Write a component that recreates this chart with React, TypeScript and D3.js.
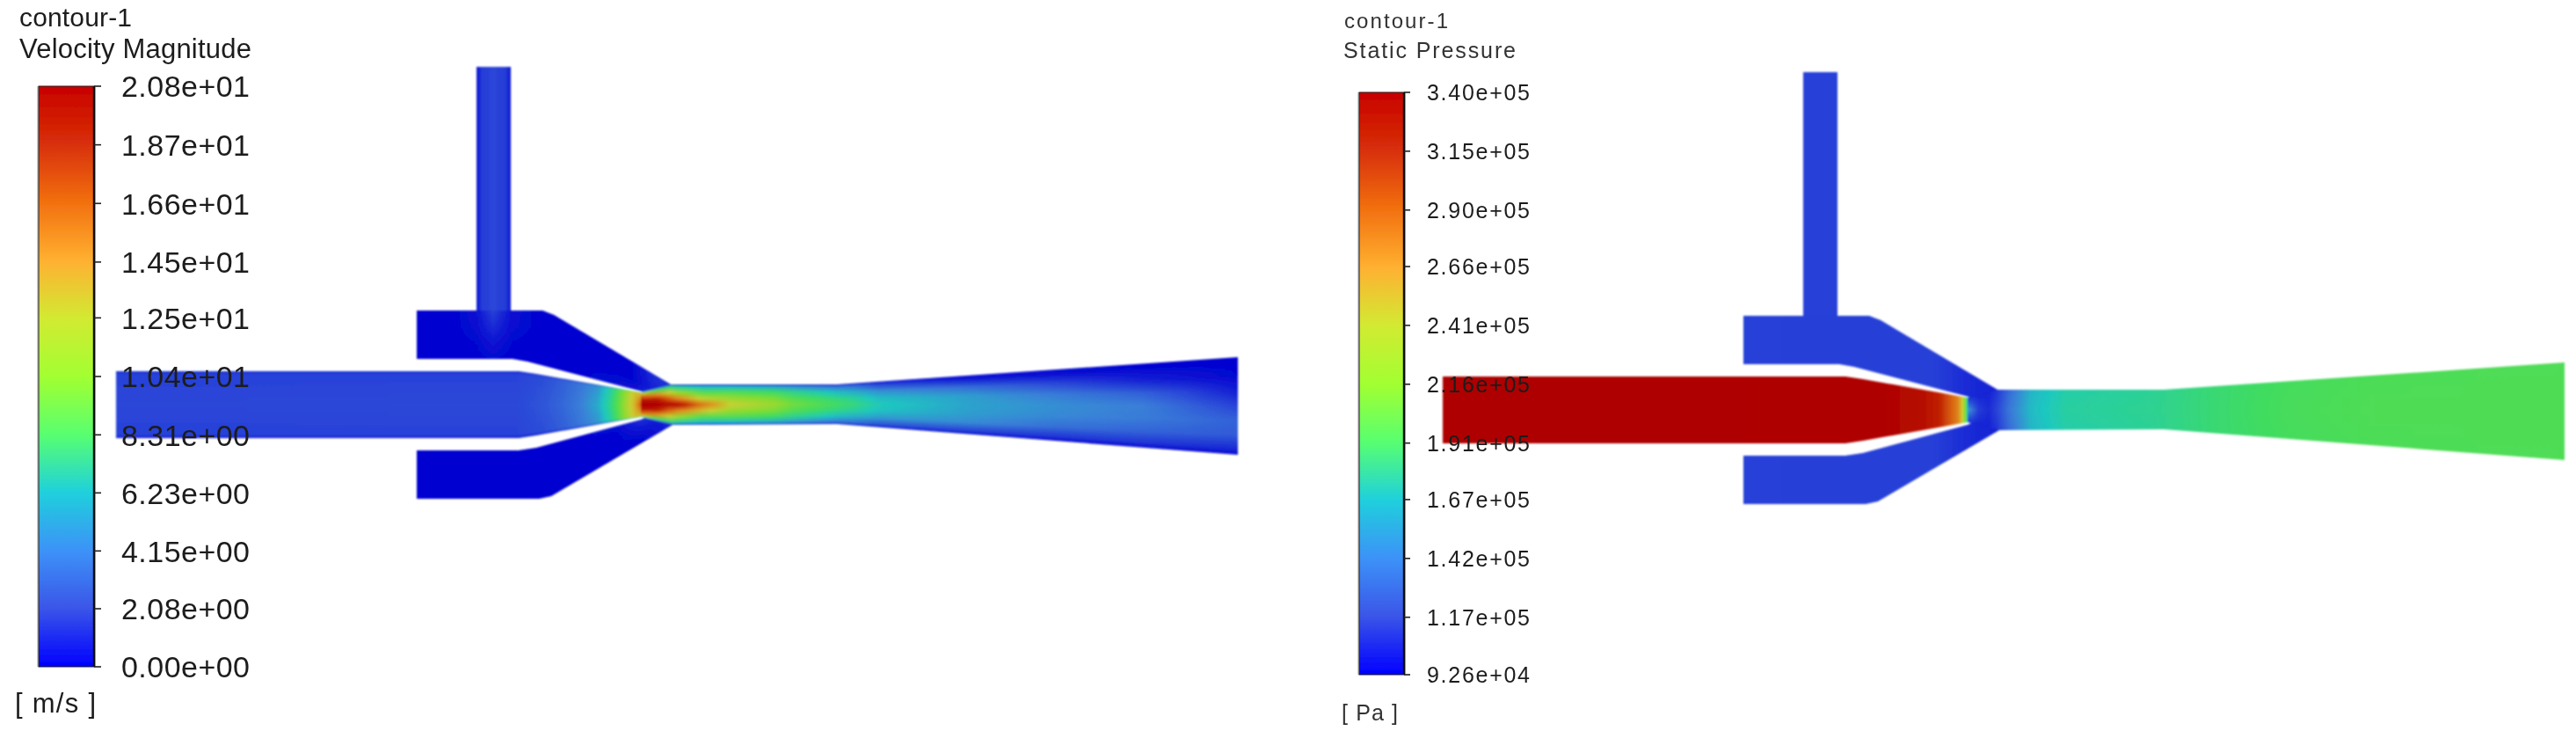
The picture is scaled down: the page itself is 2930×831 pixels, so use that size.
import React, { useMemo } from "react";
import * as d3 from "d3";

// ---------- colour map ----------
const rampStops = [0, 0.1, 0.2, 0.3, 0.4, 0.5, 0.6, 0.7, 0.8, 0.9, 1];
const barRamp = ["#0000ff", "#3a55e8", "#3c92f8", "#1fd0dc", "#58ff70", "#a2ff30", "#d2ea30", "#ffb030", "#f27010", "#d83008", "#c80000"];
const fieldRamp = ["#0000d0", "#2a45d8", "#3a80d8", "#1dc8c0", "#40dc60", "#88dc30", "#c8d030", "#e09020", "#d86010", "#c02000", "#ae0000"];

// ---------- tick labels ----------
const velocityLabels = ["0.00e+00", "2.08e+00", "4.15e+00", "6.23e+00", "8.31e+00", "1.04e+01", "1.25e+01", "1.45e+01", "1.66e+01", "1.87e+01", "2.08e+01"];
const pressureLabels = ["9.26e+04", "1.17e+05", "1.42e+05", "1.67e+05", "1.91e+05", "2.16e+05", "2.41e+05", "2.66e+05", "2.90e+05", "3.15e+05", "3.40e+05"];

// ---------- geometry, model units (x along axis, y up from axis) ----------
const nozzleTopX = [0, 458, 478, 597];
const nozzleTopY = [38, 38, 35, 14];
const nozzleBotX = [0, 458, 478, 597];
const nozzleBotY = [-38, -38, -35, -14];
const upperTopX = [342, 485, 498, 631];
const upperTopY = [107, 107, 102, 23];
const upperBotX = [342, 451, 468, 598, 631];
const upperBotY = [52, 52, 49, 15, 0];
const lowerTopX = [342, 458, 478, 597, 633];
const lowerTopY = [-52, -52, -49, -17, 0];
const lowerBotX = [342, 481, 495, 633];
const lowerBotY = [-107, -107, -104, -23];
const tubeTopX = [597, 631, 820, 1276];
const tubeTopY = [14, 23, 23, 54];
const tubeBotX = [597, 633, 820, 1276];
const tubeBotY = [-14, -23, -22, -57];
const stemX = [410, 449];
const stemTop = [384, 384];
const stemBot = [106, 106];

// ---------- velocity field [m/s] ----------
const vNozzleEta = [0, 0.05, 0.5, 0.95, 1];
const vNozzleX = [0, 458, 488, 508, 528, 548, 563, 573, 583, 590, 597];
const vNozzle = [
  [1.4, 2.0, 2.1, 2.0, 0.8],
  [1.4, 2.0, 2.2, 2.0, 0.8],
  [1.8, 2.4, 2.7, 2.4, 1.0],
  [2.0, 3.0, 3.3, 3.0, 1.2],
  [2.5, 3.8, 4.1, 3.8, 1.5],
  [3.0, 4.8, 5.4, 4.8, 2.0],
  [4.5, 7.0, 7.6, 7.0, 3.0],
  [6.0, 9.2, 9.6, 9.2, 4.0],
  [8.0, 11.5, 12.0, 11.5, 6.0],
  [10.0, 13.0, 13.5, 13.0, 7.0],
  [10.0, 13.0, 17.0, 13.0, 8.0],
];
const vTubeEta = [0, 0.06, 0.2, 0.35, 0.5, 0.65, 0.8, 0.94, 1];
const vTubeX = [597, 613, 638, 668, 698, 748, 768, 837, 868, 968, 1068, 1168, 1276];
const vTube = [
  [6, 13, 17, 20, 20.8, 20, 17, 13, 6],
  [4, 9, 15, 19.5, 20.8, 19.5, 15, 9, 4],
  [1.5, 7, 11, 15, 20, 15, 11, 7, 1.5],
  [1, 6, 9, 12, 15.5, 13, 9, 6, 1],
  [1, 6, 9, 11, 12.5, 11, 9, 6, 1],
  [1, 5.5, 8.3, 10, 11, 10, 8.3, 5.5, 1],
  [0.8, 5, 7.5, 9, 9.8, 9, 7.5, 5, 0.8],
  [0.6, 3.5, 5.5, 7, 7.8, 7, 5.5, 3.5, 0.6],
  [0.5, 2, 4.5, 5.8, 6.4, 6, 4.8, 2.5, 0.5],
  [0.3, 0.8, 3.5, 5, 5.2, 5, 4.5, 2, 0.4],
  [0.2, 0.4, 2.2, 4, 4.6, 4.4, 3.6, 1.6, 0.3],
  [0.1, 0.2, 1, 3, 4.1, 4, 3.2, 1.6, 0.3],
  [0.1, 0.1, 0.2, 0.9, 2.0, 3.1, 2.8, 1.2, 0.3],
];
const vPlenumEta = [0, 0.33, 0.66, 1];
const vUpperX = [342, 385, 410, 429, 449, 470, 520, 590, 611, 631];
const vUpper = [
  [0.1, 0.1, 0.1, 0.1],
  [0.1, 0.1, 0.1, 0.1],
  [0.5, 0.4, 0.2, 0.1],
  [2.0, 1.3, 0.6, 0.2],
  [0.5, 0.4, 0.2, 0.1],
  [0.2, 0.2, 0.1, 0.1],
  [0.05, 0.05, 0.1, 0.1],
  [0.2, 0.2, 0.2, 0.5],
  [1.3, 1.2, 1.0, 1.6],
  [1.5, 1.5, 1.5, 1.5],
];
const vLowerX = [342, 500, 570, 600, 620, 633];
const vLower = [
  [0.05, 0.05, 0.05, 0.05],
  [0.1, 0.05, 0.05, 0.05],
  [0.3, 0.1, 0.05, 0.05],
  [1.5, 0.8, 0.3, 0.1],
  [1.5, 1.0, 0.8, 0.6],
  [1.5, 1.5, 1.5, 1.5],
];
const vStemEta = [0, 1];
const vStemX = [410, 412, 416, 429, 443, 447, 449];
const vStem = [[0.3, 0.3], [1.0, 1.0], [1.8, 1.8], [2.1, 2.1], [1.8, 1.8], [1.0, 1.0], [0.3, 0.3]];

// ---------- pressure field [Pa] ----------
const pFlatEta = [0, 1];
const pNozzleX = [0, 500, 545, 565, 576, 585, 590, 594, 597];
const pNozzle = [[3.4e5, 3.4e5], [3.39e5, 3.39e5], [3.3e5, 3.3e5], [3.15e5, 3.15e5], [2.95e5, 2.95e5], [2.75e5, 2.75e5], [2.5e5, 2.5e5], [2.15e5, 2.15e5], [1.75e5, 1.75e5]];
const pTubeEta = [0, 0.5, 1];
const pTubeX = [597, 609, 621, 631, 644, 669, 709, 809, 879, 959, 1059, 1276];
const pTube = [
  [1.1e5, 1.55e5, 1.1e5],
  [1.05e5, 1.15e5, 1.05e5],
  [1.05e5, 1.08e5, 1.05e5],
  [1.12e5, 1.18e5, 1.12e5],
  [1.33e5, 1.38e5, 1.33e5],
  [1.6e5, 1.62e5, 1.6e5],
  [1.73e5, 1.75e5, 1.73e5],
  [1.78e5, 1.79e5, 1.78e5],
  [1.87e5, 1.87e5, 1.87e5],
  [1.93e5, 1.94e5, 1.93e5],
  [1.96e5, 1.97e5, 1.96e5],
  [1.97e5, 1.97e5, 1.97e5],
];
const pPlenumX = [342, 560, 595, 631];
const pPlenum = [[1.16e5, 1.16e5], [1.15e5, 1.15e5], [1.08e5, 1.08e5], [1.05e5, 1.05e5]];
const pStemX = [410, 449];
const pStem = [[1.16e5, 1.16e5], [1.16e5, 1.16e5]];

type Region = { key: string; topX: number[]; topY: number[]; botX: number[]; botY: number[]; x: number[]; eta: number[]; v: number[][] };

const velocityRegions: Region[] = [
  { key: "stem", topX: stemX, topY: stemTop, botX: stemX, botY: stemBot, x: vStemX, eta: vStemEta, v: vStem },
  { key: "upper", topX: upperTopX, topY: upperTopY, botX: upperBotX, botY: upperBotY, x: vUpperX, eta: vPlenumEta, v: vUpper },
  { key: "lower", topX: lowerTopX, topY: lowerTopY, botX: lowerBotX, botY: lowerBotY, x: vLowerX, eta: vPlenumEta, v: vLower },
  { key: "nozzle", topX: nozzleTopX, topY: nozzleTopY, botX: nozzleBotX, botY: nozzleBotY, x: vNozzleX, eta: vNozzleEta, v: vNozzle },
  { key: "tube", topX: tubeTopX, topY: tubeTopY, botX: tubeBotX, botY: tubeBotY, x: vTubeX, eta: vTubeEta, v: vTube },
];
const pressureRegions: Region[] = [
  { key: "stem", topX: stemX, topY: stemTop, botX: stemX, botY: stemBot, x: pStemX, eta: pFlatEta, v: pStem },
  { key: "upper", topX: upperTopX, topY: upperTopY, botX: upperBotX, botY: upperBotY, x: pPlenumX, eta: pFlatEta, v: pPlenum },
  { key: "lower", topX: lowerTopX, topY: lowerTopY, botX: lowerBotX, botY: lowerBotY, x: pPlenumX, eta: pFlatEta, v: pPlenum },
  { key: "nozzle", topX: nozzleTopX, topY: nozzleTopY, botX: nozzleBotX, botY: nozzleBotY, x: pNozzleX, eta: pFlatEta, v: pNozzle },
  { key: "tube", topX: tubeTopX, topY: tubeTopY, botX: tubeBotX, botY: tubeBotY, x: pTubeX, eta: pTubeEta, v: pTube },
];

const COLUMN = 2;

function Field({ id, regions, dx, dy, domain }: { id: string; regions: Region[]; dx: number; dy: number; domain: [number, number] }) {
  const built = useMemo(() => {
    const sx = d3.scaleLinear().domain([0, 1276]).range([132 + dx, 1408 + dx]);
    const sy = d3.scaleLinear().domain([-60, 60]).range([520 + dy, 400 + dy]);
    const t = d3.scaleLinear().domain(domain).range([0, 1]).clamp(true);
    const ramp = d3.scaleLinear<string>().domain(rampStops).range(fieldRamp).interpolate(d3.interpolateRgb).clamp(true);
    return regions.map((r) => {
      const top = d3.scaleLinear().domain(r.topX).range(r.topY).clamp(true);
      const bot = d3.scaleLinear().domain(r.botX).range(r.botY).clamp(true);
      const perEta = r.eta.map((_, i) => d3.scaleLinear().domain(r.x).range(r.v.map((row) => row[i])).clamp(true));
      const x0 = Math.min(r.topX[0], r.botX[0]);
      const x1 = Math.max(r.topX[r.topX.length - 1], r.botX[r.botX.length - 1]);
      const px0 = Math.floor(sx(x0));
      const px1 = Math.ceil(sx(x1));
      const cols: { x: number; y: number; h: number; id: string; stops: { o: number; c: string }[] }[] = [];
      for (let px = px0; px < px1; px += COLUMN) {
        const mx = sx.invert(px + COLUMN / 2);
        const yt = sy(top(mx));
        const yb = sy(bot(mx));
        cols.push({
          x: px,
          y: Math.floor(yt) - 2,
          h: Math.ceil(yb - yt) + 4,
          id: `${id}-${r.key}-${px}`,
          stops: r.eta.map((e, i) => {
            const gy = yt + e * (yb - yt);
            const y = Math.floor(yt) - 2;
            const h = Math.ceil(yb - yt) + 4;
            return { o: (gy - y) / h, c: ramp(t(perEta[i](mx))) };
          }),
        });
      }
      const line = d3.line<[number, number]>().x((d) => sx(d[0])).y((d) => sy(d[1]));
      const outline: [number, number][] = [
        ...r.topX.map((x, i) => [x, r.topY[i]] as [number, number]),
        ...r.botX.map((x, i) => [x, r.botY[i]] as [number, number]).reverse(),
      ];
      return { key: r.key, cols, path: (line(outline) || "") + "Z" };
    });
  }, [id, regions, dx, dy, domain]);

  return (
    <g filter="url(#soft)">
      {built.map((r) => (
        <g key={r.key}>
          <defs>
            <clipPath id={`${id}-${r.key}-clip`}>
              <path d={r.path} />
            </clipPath>
            {r.cols.map((c) => (
              <linearGradient key={c.id} id={c.id} x1="0" x2="0" y1="0" y2="1">
                {c.stops.map((s, i) => (
                  <stop key={i} offset={s.o} stopColor={s.c} />
                ))}
              </linearGradient>
            ))}
          </defs>
          <g clipPath={`url(#${id}-${r.key}-clip)`}>
            {r.cols.map((c) => (
              <rect key={c.id} x={c.x} y={c.y} width={COLUMN + 0.5} height={c.h} fill={`url(#${c.id})`} />
            ))}
          </g>
        </g>
      ))}
    </g>
  );
}

function ColorBar({ id, labels, x0, x1, yTop, yBot, tickEnd, textX, textW, fontSize }: { id: string; labels: string[]; x0: number; x1: number; yTop: number; yBot: number; tickEnd: number; textX: number; textW: number; fontSize: number }) {
  const vals = labels.map(Number);
  const y = d3.scaleLinear().domain([vals[0], vals[vals.length - 1]]).range([yBot, yTop]);
  return (
    <g>
      <defs>
        <linearGradient id={id} x1="0" x2="0" y1="1" y2="0">
          {rampStops.map((s, i) => (
            <stop key={i} offset={s} stopColor={barRamp[i]} />
          ))}
        </linearGradient>
      </defs>
      <rect x={x0 - 2} y={yTop} width={x1 - x0 + 4} height={yBot - yTop} fill="#c8c8c8" />
      <rect x={x0} y={yTop} width={x1 - x0} height={yBot - yTop} fill={`url(#${id})`} stroke="#222" strokeWidth={1} />
      <line x1={x1} x2={x1} y1={yTop} y2={yBot} stroke="#111" strokeWidth={2.5} />
      {labels.map((l, i) => (
        <g key={l}>
          <line x1={x1} x2={tickEnd} y1={y(vals[i])} y2={y(vals[i])} stroke="#222" strokeWidth={1.6} />
          <text x={textX} y={y(vals[i])} dy="0.36em" fontSize={fontSize} textLength={textW} lengthAdjust="spacing" fill="#1c1c1c">
            {l}
          </text>
        </g>
      ))}
    </g>
  );
}

const velocityDomain: [number, number] = [0, 20.8];
const pressureDomain: [number, number] = [9.26e4, 3.4e5];

export default function App() {
  return (
    <svg width={2930} height={831} viewBox="0 0 2930 831" style={{ position: "absolute", left: 0, top: 0, background: "#fff" }} fontFamily="'Liberation Sans', Arial, sans-serif">
      <defs>
        <filter id="soft" filterUnits="userSpaceOnUse" x="0" y="0" width="2930" height="831">
          <feGaussianBlur stdDeviation="0.9" />
        </filter>
        <filter id="softText" filterUnits="userSpaceOnUse" x="0" y="0" width="2930" height="831">
          <feGaussianBlur stdDeviation="0.7" />
        </filter>
      </defs>
      <rect width={2930} height={831} fill="#fff" />
      <Field id="vel" regions={velocityRegions} dx={0} dy={0} domain={velocityDomain} />
      <Field id="prs" regions={pressureRegions} dx={1509} dy={6} domain={pressureDomain} />
      <g filter="url(#softText)">
        <text x={22} y={30} fontSize={30} textLength={128} fill="#1c1c1c">contour-1</text>
        <text x={22} y={66} fontSize={31} textLength={264} fill="#1c1c1c">Velocity Magnitude</text>
        <ColorBar id="barV" labels={velocityLabels} x0={44} x1={107} yTop={98} yBot={758} tickEnd={115} textX={138} textW={146} fontSize={34} />
        <text x={17} y={810} fontSize={31} textLength={92} fill="#1c1c1c">[ m/s ]</text>

        <text x={1529} y={32} fontSize={24} textLength={118} lengthAdjust="spacing" fill="#333">contour-1</text>
        <text x={1528} y={66} fontSize={25} textLength={196} lengthAdjust="spacing" fill="#333">Static Pressure</text>
        <ColorBar id="barP" labels={pressureLabels} x0={1546} x1={1597} yTop={105} yBot={767} tickEnd={1604} textX={1623} textW={117} fontSize={25} />
        <text x={1526} y={819} fontSize={25} textLength={64} lengthAdjust="spacing" fill="#333">[ Pa ]</text>
      </g>
    </svg>
  );
}
